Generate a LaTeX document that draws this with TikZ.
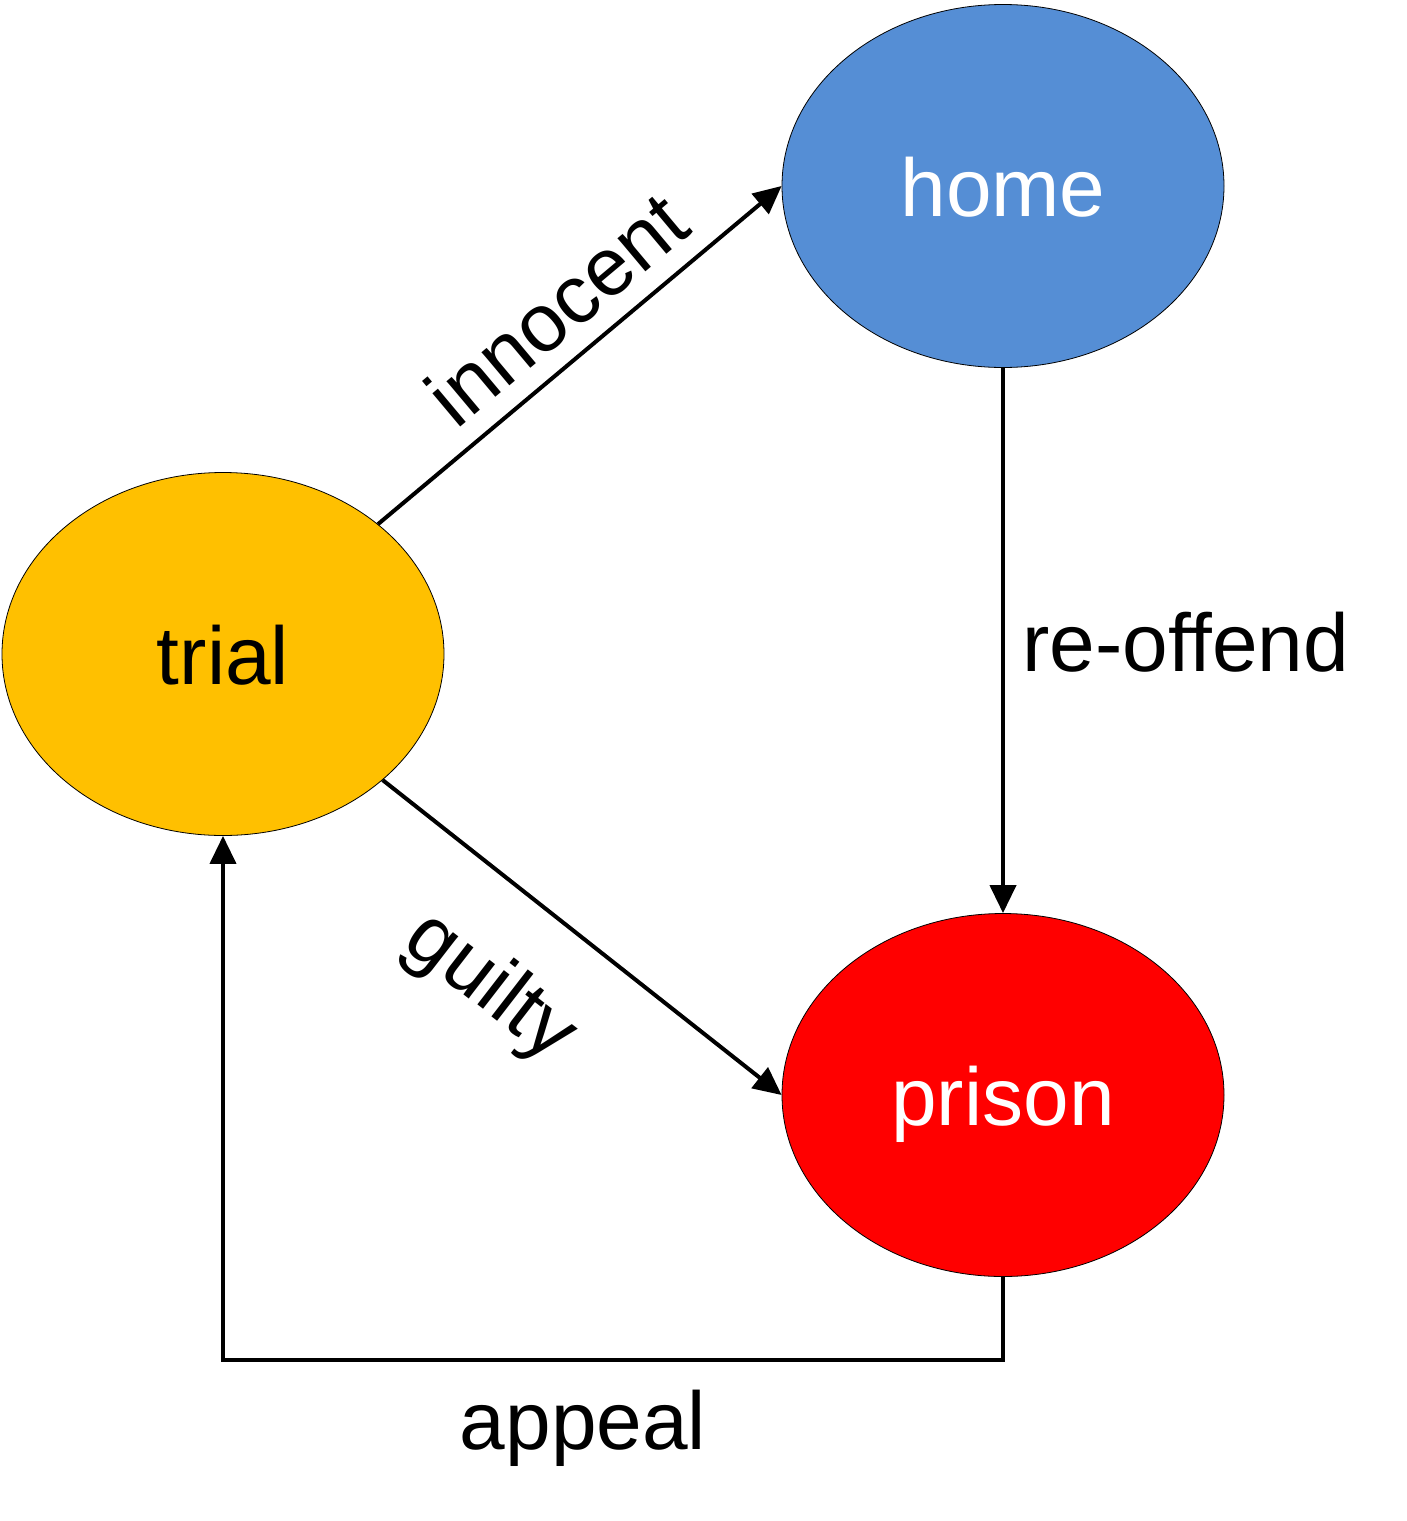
\documentclass[tikz,border=0pt]{standalone}
\usepackage{fontspec}
\setmainfont{Liberation Sans}
\usetikzlibrary{arrows.meta,shapes.geometric}
\definecolor{trialc}{HTML}{FFC000}
\definecolor{homec}{HTML}{558ED5}
\definecolor{prisonc}{HTML}{FF0000}
\begin{document}
\begin{tikzpicture}[x=1pt,y=-1pt,
  state/.style={ellipse, draw=black, line width=0.8pt, minimum width=442pt, minimum height=363pt,
    inner sep=0pt, text height=60pt, text depth=0pt,
    font=\fontsize{82}{98}\selectfont},
  lbl/.style={inner sep=0pt, text height=60pt, text depth=0pt, font=\fontsize{82}{98}\selectfont},
  arr/.style={line width=4pt, -{Triangle[length=28pt,width=26pt]}}]
\useasboundingbox (0,0) rectangle (1407,1521);
\node[state, fill=trialc, text=black] (trial) at (223,654) {trial};
\node[state, fill=homec, text=white] (home) at (1003,186) {home};
\node[state, fill=prisonc, text=white] (prison) at (1003,1095) {prison};
\draw[arr] (trial) -- (home.west);
\draw[arr] (trial) -- (prison.west);
\draw[arr] (home.south) -- (prison.north);
\draw[arr] (prison.south) -- ++(0,83) coordinate (corner) -| (trial.south);
\node[lbl, rotate=40] (linnocent) at (556,308) {innocent};
\node[lbl, rotate=-37.7] (lguilty) at (495,981) {guilty};
\node[lbl, anchor=base west] (lreoffend) at (1022,671) {re-offend};
\node[lbl, anchor=base] (lappeal) at (583,1449) {appeal};
\end{tikzpicture}
\end{document}
